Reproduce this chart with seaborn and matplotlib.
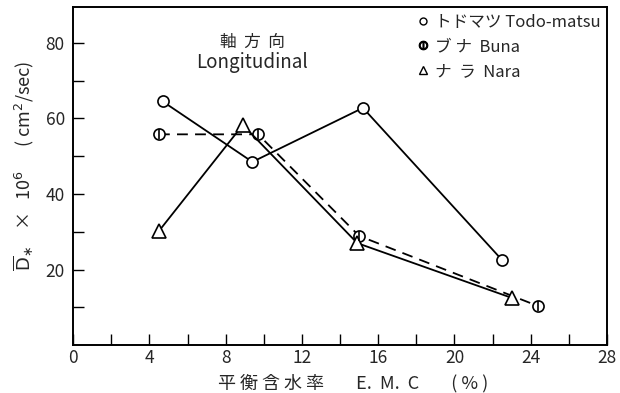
import matplotlib
matplotlib.use("Agg")
import matplotlib.pyplot as plt
from matplotlib.lines import Line2D
import seaborn as sns
import pandas as pd

# Equilibrium moisture content (%) and diffusion coefficient (x10^6 cm^2/sec)
todo_emc = [4.7, 9.4, 15.2, 22.5]
todo_d = [64.5, 48.5, 62.8, 22.5]
buna_emc = [4.5, 9.7, 15.0, 24.4]
buna_d = [55.8, 55.8, 28.9, 10.3]
nara_emc = [4.5, 8.9, 14.9, 23.0]
nara_d = [30.2, 58.3, 27.0, 12.5]

legend_labels = ["トドマツ Todo-matsu", "ブ ナ  Buna", "ナ  ラ  Nara"]
x_ticks = [0, 4, 8, 12, 16, 20, 24, 28]
y_ticks = [20, 40, 60, 80]

sns.set_style("ticks")
plt.rcParams["font.family"] = ["Noto Sans CJK JP", "DejaVu Sans"]
plt.rcParams["mathtext.fontset"] = "dejavusans"

fig = plt.figure(figsize=(6.2, 3.93), dpi=100)
ax = fig.add_axes([0.118, 0.122, 0.861, 0.860])

lw = 1.3
todo = pd.DataFrame({"emc": todo_emc, "d": todo_d})
buna = pd.DataFrame({"emc": buna_emc, "d": buna_d})
nara = pd.DataFrame({"emc": nara_emc, "d": nara_d})

sns.lineplot(data=todo, x="emc", y="d", ax=ax, color="black", lw=lw,
             marker="o", markersize=8, markerfacecolor="white",
             markeredgecolor="black", markeredgewidth=1.2, sort=False)
sns.lineplot(data=buna, x="emc", y="d", ax=ax, color="black", lw=lw,
             linestyle=(0, (6, 4)), marker="o", markersize=8,
             markerfacecolor="white", markeredgecolor="black",
             markeredgewidth=1.2, sort=False)
sns.scatterplot(data=buna, x="emc", y="d", ax=ax, marker="|", s=60,
                color="black", linewidth=1.2, zorder=5)
sns.lineplot(data=nara, x="emc", y="d", ax=ax, color="black", lw=lw,
             marker="^", markersize=10, markerfacecolor="white",
             markeredgecolor="black", markeredgewidth=1.2, sort=False)

ax.set_xlim(0, 28)
ax.set_ylim(0, 89.5)
ax.set_xticks(x_ticks)
ax.set_xticks(range(2, 28, 4), minor=True)
ax.set_yticks(y_ticks)
ax.set_yticks([10, 30, 50, 70], minor=True)
ax.tick_params(axis="both", which="both", direction="in", length=8,
               width=1.0, labelsize=12.5, color="black")
ax.tick_params(axis="x", pad=3)
ax.tick_params(axis="y", pad=6)
for s in ax.spines.values():
    s.set_visible(True)
    s.set_linewidth(1.4)
    s.set_color("black")

ax.set_xlabel("平 衡 含 水 率        E.  M.  C        ( % )", fontsize=13,
              labelpad=1)
ax.xaxis.set_label_coords(0.525, -0.085)
ax.set_ylabel(r"$\overline{\mathrm{D}}_{\ast}$    ×   10$^{6}$      ( cm$^{2}$/sec)",
              fontsize=13, labelpad=10)
ax.yaxis.set_label_coords(-0.07, 0.53)

ax.text(9.4, 80.2, "軸  方  向", ha="center", va="center", fontsize=12)
ax.text(9.4, 74.8, "Longitudinal", ha="center", va="center", fontsize=13.5)

handles = [
    Line2D([], [], ls="none", marker="o", markersize=5,
           markerfacecolor="white", markeredgecolor="black"),
    Line2D([], [], ls="none", marker="$\u29B6$", markersize=6,
           color="black"),
    Line2D([], [], ls="none", marker="^", markersize=6,
           markerfacecolor="white", markeredgecolor="black"),
]
ax.legend(handles, legend_labels, loc="upper right", frameon=False,
          fontsize=12, handlelength=0.6, handletextpad=0.4,
          labelspacing=0.45, borderaxespad=0.0, bbox_to_anchor=(1.0, 1.0))

fig.savefig("out.png", dpi=100)
